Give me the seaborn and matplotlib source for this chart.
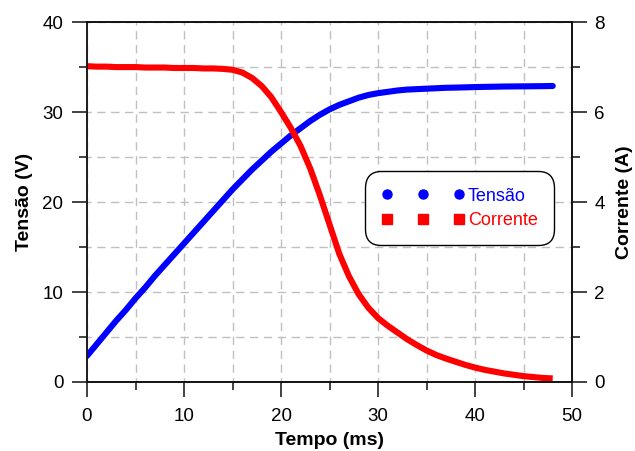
import numpy as np
import pandas as pd
import matplotlib
matplotlib.use("Agg")
import matplotlib.pyplot as plt
from matplotlib.lines import Line2D
from matplotlib.ticker import MultipleLocator
import seaborn as sns

tempo = list(range(0, 49))
tensao = [2.9, 4.2, 5.5, 6.8, 8.0, 9.3, 10.5, 11.8, 13.0, 14.2, 15.4, 16.6, 17.8,
          19.0, 20.2, 21.4, 22.5, 23.6, 24.6, 25.6, 26.5, 27.4, 28.2, 29.0, 29.7,
          30.3, 30.8, 31.2, 31.6, 31.9, 32.1, 32.25, 32.4, 32.5, 32.55, 32.6, 32.65,
          32.7, 32.72, 32.75, 32.78, 32.8, 32.82, 32.84, 32.85, 32.86, 32.87, 32.88, 32.9]
corrente = [7.02, 7.01, 7.01, 7.0, 7.0, 7.0, 6.99, 6.99, 6.99, 6.98, 6.98, 6.98, 6.97,
            6.97, 6.96, 6.94, 6.88, 6.76, 6.58, 6.33, 6.0, 5.65, 5.25, 4.75, 4.15,
            3.5, 2.85, 2.35, 1.95, 1.65, 1.42, 1.25, 1.1, 0.95, 0.82, 0.7, 0.6, 0.52,
            0.45, 0.38, 0.32, 0.27, 0.23, 0.19, 0.16, 0.13, 0.11, 0.09, 0.08]

df = pd.DataFrame({"Tempo": tempo, "Tensao": tensao, "Corrente": corrente})

sns.set_style("white")
plt.rcParams["font.family"] = ["Liberation Sans", "DejaVu Sans"]

fig = plt.figure(figsize=(6.35, 4.51), dpi=100)
ax = fig.add_axes([0.137, 0.153, 0.764, 0.798])
ax2 = ax.twinx()

sns.lineplot(data=df, x="Tempo", y="Tensao", ax=ax, color="#0000ff", lw=4.4,
             solid_capstyle="round")
sns.lineplot(data=df, x="Tempo", y="Corrente", ax=ax2, color="#ff0000", lw=4.4,
             solid_capstyle="butt")

ax.set_xlim(0, 50)
ax.set_ylim(0, 40)
ax2.set_ylim(0, 8)

ax.xaxis.set_major_locator(MultipleLocator(10))
ax.xaxis.set_minor_locator(MultipleLocator(5))
ax.yaxis.set_major_locator(MultipleLocator(10))
ax.yaxis.set_minor_locator(MultipleLocator(5))
ax2.yaxis.set_major_locator(MultipleLocator(2))
ax2.yaxis.set_minor_locator(MultipleLocator(1))

ax.grid(True, which="both", color="#c0c0c0", ls=(3, (6, 4)), lw=1)
ax.set_axisbelow(True)

for a in (ax, ax2):
    a.tick_params(which="major", direction="out", length=11, width=1.2,
                  labelsize=13.5, color="#222222", labelcolor="black")
    a.tick_params(which="minor", direction="out", length=6, width=1.2, color="#222222")
    for s in a.spines.values():
        s.set_color("#111111")
        s.set_linewidth(1.2)
ax.tick_params(axis="x", which="both", bottom=True, pad=8)
ax.tick_params(axis="y", which="both", left=True, pad=6)
ax2.tick_params(axis="y", which="both", right=True, pad=5)
ax.spines["left"].set_color("#555555")

ax.set_xlabel("Tempo (ms)", fontsize=14, fontweight="bold", labelpad=5, color="black")
ax.set_ylabel("Tensão (V)", fontsize=14, fontweight="bold", labelpad=7, color="black")
ax2.set_ylabel("Corrente (A)", fontsize=14, fontweight="bold", labelpad=8, color="black")

handles = [Line2D([], [], marker="o", color="#0000ff", ls="none", markersize=6.5),
           Line2D([], [], marker="s", color="#ff0000", ls="none", markersize=6.5)]
leg = ax2.legend(handles, ["Tensão", "Corrente"], numpoints=3, handlelength=4.6,
                 loc="upper left", bbox_to_anchor=(0.573, 0.585), fontsize=13,
                 frameon=True, fancybox=True, edgecolor="black", framealpha=1,
                 borderpad=0.9, handletextpad=0.2, labelspacing=0.4,
                 borderaxespad=0.0)
leg.get_frame().set_linewidth(1.0)
leg.get_frame().set_boxstyle("round", pad=0.0, rounding_size=0.9)
for t, c in zip(leg.get_texts(), ["#0000ff", "#ff0000"]):
    t.set_color(c)

fig.savefig("out.png", dpi=100)
